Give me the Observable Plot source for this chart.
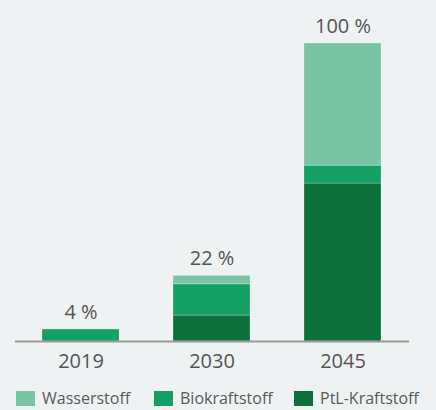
<!DOCTYPE html>
<html>
<head>
<meta charset="utf-8">
<script src="https://cdn.jsdelivr.net/npm/d3@7"></script>
<script src="https://cdn.jsdelivr.net/npm/@observablehq/plot@0.6"></script>
<style>
  html, body { margin: 0; padding: 0; background: #eef2f3; }
  body { width: 436px; height: 410px; position: relative; overflow: hidden; font-family: "Open Sans", sans-serif; }
  #legend { position: absolute; left: 0; top: 391px; width: 436px; height: 17px; }
  .item { position: absolute; top: 0; display: flex; align-items: center; }
  .sw { width: 19px; height: 15px; display: inline-block; }
  .lbl { font-size: 16px; color: #5a5a5a; margin-left: 7px; line-height: 15px; }
</style>
</head>
<body>
<div id="chart"></div>
<div id="legend"></div>
<script>
const years = ["2019", "2030", "2045"];
const series = ["PtL-Kraftstoff", "Biokraftstoff", "Wasserstoff"];
const ptl = [0, 8.7, 53];
const bio = [4, 10.5, 6];
const wasser = [0, 2.8, 41];
const totalLabels = ["4 %", "22 %", "100 %"];
const legendOrder = ["Wasserstoff", "Biokraftstoff", "PtL-Kraftstoff"];
const colors = ["#78c5a6", "#13a064", "#0b703b"];

const valuesBySeries = {"PtL-Kraftstoff": ptl, "Biokraftstoff": bio, "Wasserstoff": wasser};
const rows = [];
series.forEach(s => years.forEach((y, i) => rows.push({year: y, series: s, value: valuesBySeries[s][i]})));
const totals = years.map((y, i) => ({year: y, total: ptl[i] + bio[i] + wasser[i], label: totalLabels[i]}));

const plot = Plot.plot({
  width: 436,
  height: 385,
  marginLeft: 15,
  marginRight: 27,
  marginTop: 43,
  marginBottom: 44,
  style: {background: "transparent", fontFamily: "Open Sans, sans-serif"},
  x: {domain: years, paddingInner: 0.41, paddingOuter: 0.205, label: null, tickSize: 0, tickPadding: 12},
  y: {domain: [0, 100], axis: null},
  color: {domain: legendOrder, range: colors},
  marks: [
    Plot.barY(rows, {x: "year", y: "value", fill: "series", order: series, stroke: "#ffffff", strokeOpacity: 0.25, strokeWidth: 1}),
    Plot.ruleY([0], {stroke: "#9a9a9a", strokeWidth: 2}),
    Plot.text(totals, {x: "year", y: "total", text: "label", dy: -17, fontSize: 20, fill: "#555555"}),
    Plot.axisX({tickSize: 0, tickPadding: 12, fontSize: 20, color: "#555555"})
  ]
});
plot.querySelectorAll("[aria-label='x-axis tick label'] text, g[aria-label='x-axis tick label']").forEach(el => el.setAttribute("font-size", "20"));
document.getElementById("chart").appendChild(plot);

const legend = document.getElementById("legend");
const lefts = [16, 154, 294];
legendOrder.forEach((name, i) => {
  const item = document.createElement("div");
  item.className = "item";
  item.style.left = lefts[i] + "px";
  const sw = document.createElement("span");
  sw.className = "sw";
  sw.style.background = colors[i];
  const lbl = document.createElement("span");
  lbl.className = "lbl";
  lbl.textContent = name;
  item.appendChild(sw);
  item.appendChild(lbl);
  legend.appendChild(item);
});
</script>
</body>
</html>
